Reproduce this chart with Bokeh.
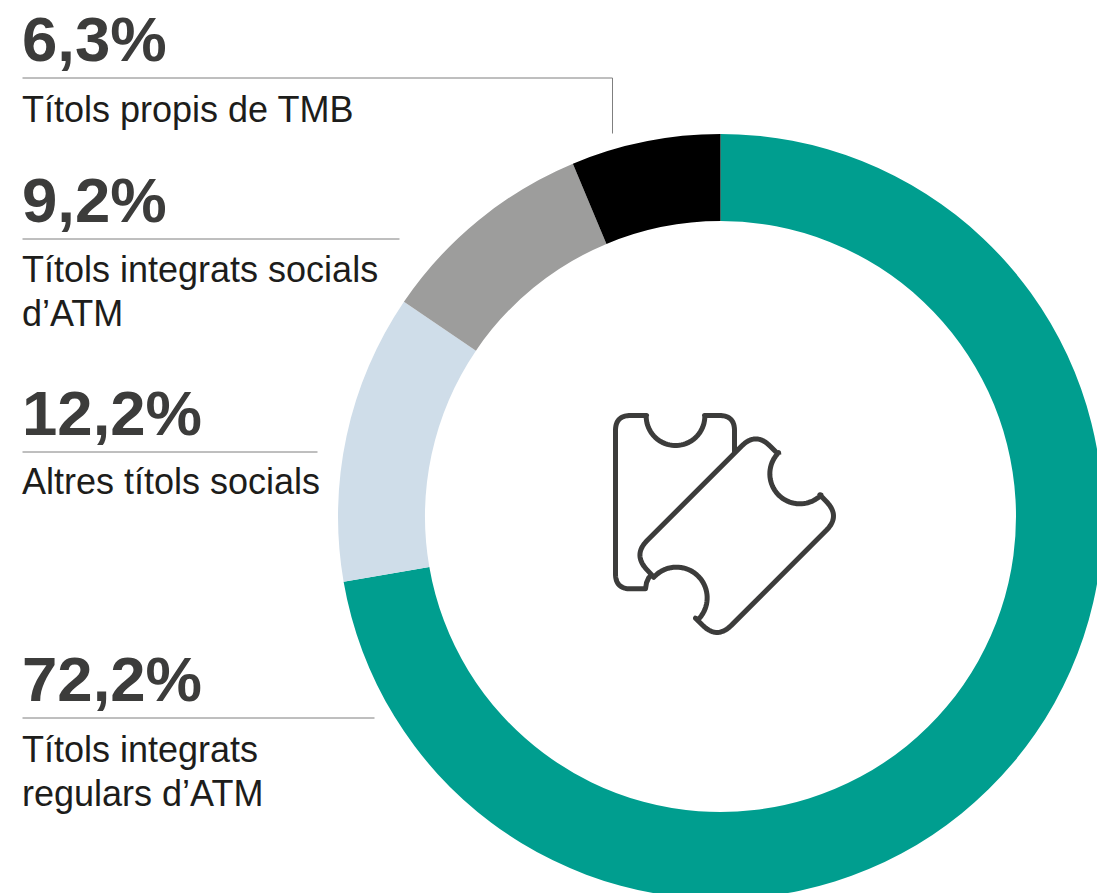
import numpy as np
from bokeh.plotting import figure
from bokeh.models import Range1d
from bokeh.core.properties import value
from bokeh.embed import file_html
from bokeh.resources import INLINE

# ---- data
categories = ["Títols integrats regulars d’ATM", "Altres títols socials", "Títols integrats socials d’ATM", "Títols propis de TMB"]
shares = [72.2, 12.2, 9.2, 6.3]
share_labels = ["72,2%", "12,2%", "9,2%", "6,3%"]
desc_lines = [["Títols integrats", "regulars d’ATM"], ["Altres títols socials"], ["Títols integrats socials", "d’ATM"], ["Títols propis de TMB"]]
slice_colors = ["#009e8f", "#cfdde9", "#9d9d9c", "#000000"]

W, H = 1097, 893
def Y(py):
    return H - np.asarray(py, dtype=float)

p = figure(width=W, height=H, x_range=Range1d(0, W), y_range=Range1d(0, H),
           output_backend="svg", toolbar_location=None, min_border=0)
p.axis.visible = False
p.grid.visible = False
p.outline_line_color = None

# ---- donut
CX, CY, RO, RI = 720, 516, 382.5, 295.5
fr = np.array(shares) / sum(shares)
cum = np.concatenate([[0], np.cumsum(fr)])
start = np.pi / 2 - cum[:-1] * 2 * np.pi
end = np.pi / 2 - cum[1:] * 2 * np.pi
p.annular_wedge(x=CX, y=float(Y(CY)), inner_radius=RI, outer_radius=RO, start_angle=end, end_angle=start,
                fill_color=slice_colors, line_color=None)

# ---- labels
TX = 21.5
BOLD, REG = 63.5, 36
SHIFT = 0.40   # offset of the rendered baseline, in em
label_base = [704, 438, 225, 64]
desc_base = [[763, 807], [495], [283, 327], [123]]
rule_y = [717.5, 451.5, 238.5, 77.5]
rule_end = [374, 317, 399, 612]
font = value("Liberation Sans")
for lab, b, lines, bases, ry, re in zip(share_labels, label_base, desc_lines, desc_base, rule_y, rule_end):
    p.text(x=[TX], y=[float(Y(b - SHIFT * BOLD))], text=[lab], text_font=font, text_font_size=f"{BOLD}px", text_font_style="bold",
           text_color="#3c3c3b", text_baseline="alphabetic", text_align="left")
    p.line(x=[22, re], y=[float(Y(ry)), float(Y(ry))], line_color="#7f7f7f", line_width=1)
    for t, bb in zip(lines, bases):
        p.text(x=[TX], y=[float(Y(bb - SHIFT * REG))], text=[t], text_font=font, text_font_size=f"{REG}px",
               text_color="#1d1d1b", text_baseline="alphabetic", text_align="left")
p.line(x=[612, 612], y=[float(Y(77.5)), float(Y(133))], line_color="#7f7f7f", line_width=1)

# ---- ticket icon (drawn in a zoomed icon space)
def zx(v): return 590 + np.asarray(v, dtype=float) / 3
def zy(v): return 395 + np.asarray(v, dtype=float) / 3

def arc(cx, cy, r, a0, a1):
    a = np.radians(np.linspace(a0, a1, 40))
    return cx + r * np.cos(a), cy + r * np.sin(a)

def corner(a, v, b, d):
    a, v, b = map(lambda q: np.asarray(q, dtype=float), (a, v, b))
    p0 = v + (a - v) / np.linalg.norm(a - v) * d
    p2 = v + (b - v) / np.linalg.norm(b - v) * d
    t = np.linspace(0, 1, 20)[:, None]
    c = (1 - t) ** 2 * p0 + 2 * t * (1 - t) * v + t ** 2 * p2
    return c[:, 0], c[:, 1]

def join(*parts):
    return np.concatenate([q[0] for q in parts]), np.concatenate([q[1] for q in parts])

ICON = "#3c3c3b"
STROKE = 5
# first ticket, open where the second one overlaps it
t1 = join(
    ([432], [175]),
    corner((432, 175), (432, 60), (342, 60), 45),
    ([342], [60]),
    arc(255, 62, 88, 0, 180),
    ([168], [60]),
    corner((168, 60), (75, 60), (75, 580), 45),
    corner((75, 60), (75, 580), (165, 580), 45),
    ([165], [580]),
    ([168, 174, 185], [562, 548, 535]),
)
p.line(x=zx(t1[0]), y=Y(zy(t1[1])), line_color=ICON, line_width=STROKE, line_join="round", line_cap="butt")

# second ticket, rotated 45 degrees
V1, V2, V3, V4 = (496, 109), (750, 362), (380, 732), (127.5, 477.5)
t2 = join(
    ([565], [178]),
    corner((565, 178), V1, V4, 60),
    corner(V1, V4, (190, 545), 60),
    ([190], [545]),
    arc(258, 607, 92, 222, 360 + 45),
    ([315], [668]),
    corner((315, 668), V3, V2, 60),
    corner(V3, V2, (688, 298), 60),
    ([688], [298]),
    arc(628, 235, 90, 45, 225),
    ([565], [178]),
)
p.line(x=zx(t2[0]), y=Y(zy(t2[1])), line_color=ICON, line_width=STROKE, line_join="round", line_cap="butt")

open("out.html", "w").write(file_html(p, INLINE))
